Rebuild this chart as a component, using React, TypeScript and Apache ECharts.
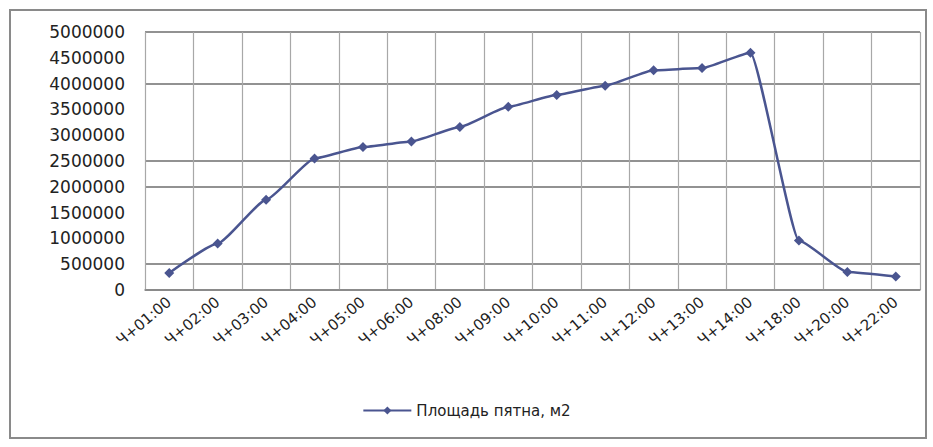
import React, { useEffect, useRef } from "react";
import * as echarts from "echarts";

const categories = [
  "Ч+01:00", "Ч+02:00", "Ч+03:00", "Ч+04:00", "Ч+05:00", "Ч+06:00", "Ч+08:00", "Ч+09:00",
  "Ч+10:00", "Ч+11:00", "Ч+12:00", "Ч+13:00", "Ч+14:00", "Ч+18:00", "Ч+20:00", "Ч+22:00",
];
const area = [
  330000, 900000, 1750000, 2550000, 2770000, 2880000, 3160000, 3550000,
  3780000, 3960000, 4260000, 4300000, 4600000, 960000, 350000, 260000,
];
const seriesName = "Площадь пятна, м2";
const yMax = 5000000;
const yStep = 500000;
// which horizontal gridlines are visibly drawn in the reference (0 .. 5000000)
const hGridVisible = [true, true, false, false, true, true, false, false, true, false, true];

export default function App() {
  const ref = useRef<HTMLDivElement>(null);
  useEffect(() => {
    if (!ref.current) return;
    const chart = echarts.init(ref.current, undefined, { renderer: "svg" });
    const font = "DejaVu Sans";
    chart.setOption({
      animation: false,
      backgroundColor: "#ffffff",
      textStyle: { fontFamily: font },
      graphic: [
        {
          type: "rect",
          shape: { x: 10, y: 10, width: 916, height: 428 },
          style: { fill: "none", stroke: "#8a8a8a", lineWidth: 2 },
          silent: true,
        },
      ],
      grid: { left: 145, right: 13, top: 32, bottom: 157, containLabel: false },
      legend: {
        bottom: 24,
        left: "center",
        itemWidth: 48,
        itemHeight: 10,
        itemGap: 4,
        textStyle: { fontSize: 15, color: "#222", fontFamily: font },
        data: [seriesName],
      },
      xAxis: {
        type: "category",
        data: categories,
        boundaryGap: true,
        axisLine: { show: true, lineStyle: { color: "#888", width: 1.5 } },
        axisTick: { show: false },
        axisLabel: {
          interval: 0,
          rotate: 40,
          margin: 10,
          fontSize: 15,
          color: "#222",
          fontFamily: font,
        },
        splitLine: { show: true, lineStyle: { color: "#a8a8a8", width: 1.2 } },
      },
      yAxis: {
        type: "value",
        min: 0,
        max: yMax,
        interval: yStep,
        axisLine: { show: false },
        axisTick: { show: false },
        axisLabel: {
          fontSize: 17,
          color: "#222",
          margin: 20,
          fontFamily: font,
          formatter: (v: number) => String(v),
        },
        splitLine: {
          show: true,
          lineStyle: {
            color: hGridVisible.map((v) => (v ? "#6e6e6e" : "rgba(0,0,0,0)")),
            width: 1.5,
          },
        },
      },
      series: [
        {
          name: seriesName,
          type: "line",
          data: area,
          smooth: 0.15,
          smoothMonotone: "x",
          symbol: "diamond",
          symbolSize: 10,
          lineStyle: { color: "#4a5590", width: 2.5 },
          itemStyle: { color: "#4a5590" },
        },
      ],
    });
    return () => chart.dispose();
  }, []);
  return (
    <div
      ref={ref}
      style={{ position: "fixed", left: 0, top: 0, width: 933, height: 447, background: "#fff" }}
    />
  );
}
